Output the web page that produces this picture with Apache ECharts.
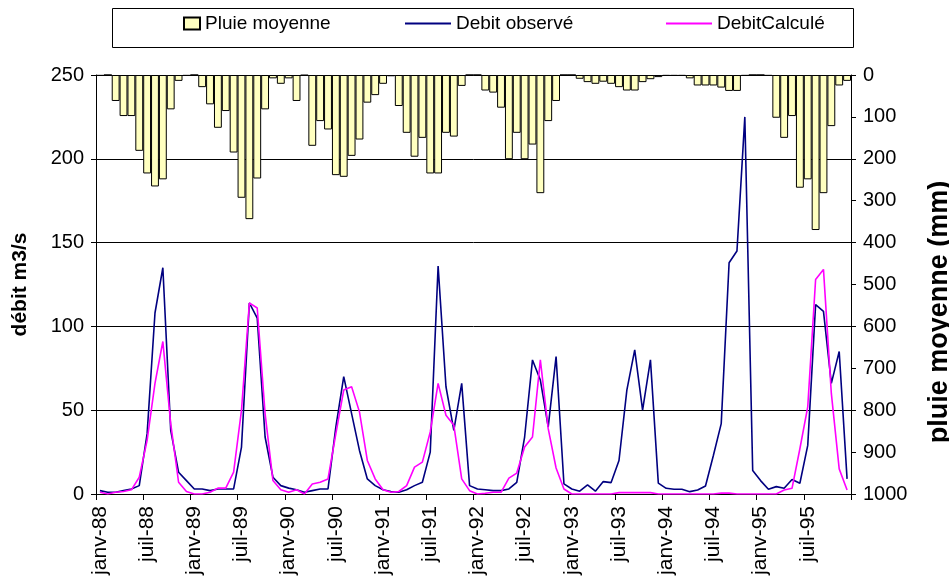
<!DOCTYPE html>
<html>
<head>
<meta charset="utf-8">
<script src="https://cdn.jsdelivr.net/npm/echarts@6/dist/echarts.min.js"></script>
<style>
html,body{margin:0;padding:0;background:#fff;}
#chart{width:949px;height:580px;}
</style>
</head>
<body>
<div id="chart"></div>
<script>
// ---- data ----
var monthNames = ['janv','févr','mars','avr','mai','juin','juil','août','sept','oct','nov','déc'];
var years = ['88','89','90','91','92','93','94','95'];

// Pluie moyenne (mm), monthly, janv-88 .. déc-95
var rain88 = [2, 0, 62, 98, 98, 181, 235, 266, 249, 82, 14, 2];
var rain89 = [0, 29, 70, 126, 86, 185, 293, 344, 247, 82, 8, 21];
var rain90 = [8, 62, 1, 169, 110, 130, 239, 243, 193, 154, 66, 48];
var rain91 = [21, 3, 74, 138, 195, 150, 235, 235, 138, 147, 26, 0];
var rain92 = [0, 37, 42, 78, 201, 138, 201, 166, 282, 110, 62, 0];
var rain93 = [0, 9, 17, 21, 16, 21, 29, 37, 37, 17, 10, 5];
var rain94 = [2, 2, 2, 8, 25, 25, 25, 30, 38, 38, 2, 0];
var rain95 = [0, 2, 102, 150, 98, 269, 249, 370, 282, 122, 25, 14];

// Debit observé (m3/s)
var obs88 = [2, 1, 1, 2, 3, 5, 36, 108, 135, 38, 13, 8];
var obs89 = [3, 3, 2, 3, 3, 3, 28, 114, 105, 34, 10, 5];
var obs90 = [3.5, 2.5, 1, 2, 3, 3, 40, 70, 48, 26, 9, 5];
var obs91 = [2.5, 1.5, 1, 2.5, 5, 7, 25, 136, 64, 38, 66, 5];
var obs92 = [3, 2.5, 2, 2, 3, 7, 34, 80, 68, 40, 82, 6];
var obs93 = [3, 1.7, 5.4, 1.7, 7.4, 6.8, 20, 62, 86, 50, 80, 6.5];
var obs94 = [3.4, 2.8, 2.8, 1.4, 2.4, 4.8, 23, 42, 138, 145, 225, 14];
var obs95 = [8, 2.8, 4.4, 3.4, 8.7, 6.4, 29, 113, 109, 66, 85, 9];

// DebitCalculé (m3/s)
var calc88 = [1, 0, 1, 1.5, 2.5, 10, 32, 66, 91, 42, 7, 1.5];
var calc89 = [0, 0, 1, 3.5, 3.5, 13, 50, 114, 111, 48, 8, 2.5];
var calc90 = [1, 2.5, 0, 6, 7, 9, 36, 62, 64, 49, 20, 9];
var calc91 = [2.5, 1, 1.5, 5, 16, 19, 37, 66, 47, 41, 9, 2];
var calc92 = [0, 0.4, 1, 1, 9.5, 12.5, 28, 34, 80, 39, 15.5, 3];
var calc93 = [0, 0, 0, 0, 0, 0, 0.8, 0.8, 0.8, 0.8, 0.8, 0];
var calc94 = [0, 0, 0, 0, 0, 0, 0, 0.5, 0.5, 0, 0, 0];
var calc95 = [0, 0, 0, 2.4, 3.4, 27, 52, 128, 134, 60, 15, 2.4];

var leftTicks = {min: 0, max: 250, interval: 50};
var rightTicks = {min: 0, max: 1000, interval: 100};

// ---- build ----
var categories = [];
years.forEach(function (y) { monthNames.forEach(function (m) { categories.push(m + '-' + y); }); });
var rain = [].concat(rain88, rain89, rain90, rain91, rain92, rain93, rain94, rain95);
var obs = [].concat(obs88, obs89, obs90, obs91, obs92, obs93, obs94, obs95);
var calc = [].concat(calc88, calc89, calc90, calc91, calc92, calc93, calc94, calc95);

var FONT = '"Liberation Sans", Arial, sans-serif';
var chart = echarts.init(document.getElementById('chart'), null, {renderer: 'canvas'});

var legendBase = {
  orient: 'horizontal', padding: 0, top: 14,
  textStyle: {fontFamily: FONT, fontSize: 19, color: '#000'},
  selectedMode: false
};

chart.setOption({
  animation: false,
  backgroundColor: '#fff',
  graphic: [{
    type: 'rect', left: 110, top: 6,
    shape: {width: 741, height: 39},
    style: {fill: 'none', stroke: '#000', lineWidth: 1}
  }],
  legend: [
    Object.assign({}, legendBase, {left: 183, itemWidth: 16, itemHeight: 12, itemGap: 5,
      data: [{name: 'Pluie moyenne', icon: 'rect'}]}),
    Object.assign({}, legendBase, {left: 405, itemWidth: 46, itemHeight: 2, itemGap: 7,
      data: [{name: 'Debit observé', icon: 'rect'}]}),
    Object.assign({}, legendBase, {left: 666, itemWidth: 46, itemHeight: 2, itemGap: 6,
      data: [{name: 'DebitCalculé', icon: 'rect'}]})
  ],
  grid: {left: 96, right: 98, top: 75, bottom: 86, containLabel: false, outerBoundsMode: 'none'},
  xAxis: {
    type: 'category',
    data: categories,
    boundaryGap: true,
    axisLine: {lineStyle: {color: '#000', width: 1}},
    axisTick: {show: true, interval: 5, length: 6, alignWithLabel: false, lineStyle: {color: '#000'}},
    axisLabel: {interval: 5, rotate: 90, fontSize: 21, fontFamily: FONT, color: '#000', margin: 12},
    splitLine: {show: false}
  },
  yAxis: [
    {
      type: 'value', position: 'left',
      min: leftTicks.min, max: leftTicks.max, interval: leftTicks.interval,
      name: 'débit m3/s', nameLocation: 'middle', nameRotate: 90, nameGap: 65,
      nameTextStyle: {fontFamily: FONT, fontSize: 21, fontWeight: 'bold', color: '#000'},
      axisLine: {show: true, lineStyle: {color: '#000'}},
      axisTick: {show: true, length: 5, lineStyle: {color: '#000'}},
      axisLabel: {fontSize: 20, fontFamily: FONT, color: '#000', margin: 12},
      splitLine: {show: true, lineStyle: {color: '#000', width: 1}}
    },
    {
      type: 'value', position: 'right', inverse: true,
      min: rightTicks.min, max: rightTicks.max, interval: rightTicks.interval,
      name: 'pluie moyenne (mm)', nameLocation: 'middle', nameRotate: 90, nameGap: 75,
      nameTextStyle: {fontFamily: FONT, fontSize: 27, fontWeight: 'bold', color: '#000',
        padding: [0, 55, 0, 0]},
      axisLine: {show: true, lineStyle: {color: '#000'}},
      axisTick: {show: true, length: 5, lineStyle: {color: '#000'}},
      axisLabel: {fontSize: 20, fontFamily: FONT, color: '#000', margin: 12,
        formatter: function (v) { return String(v); }},
      splitLine: {show: false}
    }
  ],
  series: [
    {
      name: 'Pluie moyenne', type: 'bar', yAxisIndex: 1, data: rain,
      barCategoryGap: '0%',
      itemStyle: {color: '#FFFFC0', borderColor: '#000', borderWidth: 1},
      z: 1
    },
    {
      name: 'Debit observé', type: 'line', yAxisIndex: 0, data: obs,
      symbol: 'none', lineStyle: {color: '#000080', width: 1.6}, itemStyle: {color: '#000080'},
      z: 3
    },
    {
      name: 'DebitCalculé', type: 'line', yAxisIndex: 0, data: calc,
      symbol: 'none', lineStyle: {color: '#FF00FF', width: 1.6}, itemStyle: {color: '#FF00FF'},
      z: 4
    }
  ]
});
</script>
</body>
</html>
